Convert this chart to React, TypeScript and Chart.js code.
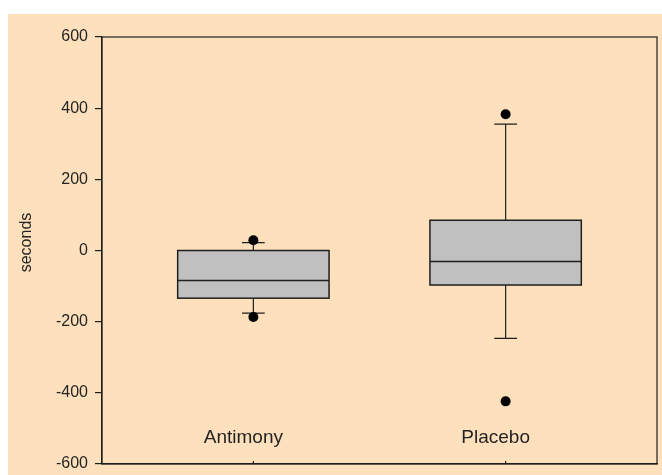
import React, { useEffect, useRef } from "react";
import { Chart, registerables } from "chart.js";

Chart.register(...registerables);

const categories = ["Antimony", "Placebo"];
const whiskerLow = [-176, -247];
const q1 = [-134, -97];
const median = [-84, -31];
const q3 = [0, 85];
const whiskerHigh = [22, 355];
const outliers = [
  [29, -187],
  [383, -424],
];
const yTickMin = -600;
const yTickMax = 600;
const yTickStep = 200;

const FONT = "'Liberation Sans', Arial, Helvetica, sans-serif";
const INK = "#1e1e1e";
const TEXT = "#242424";
const BOX_HALF = 0.3;
const CAP_HALF = 0.045;

const boxPlugin = {
  id: "boxplotDraw",
  beforeDatasetsDraw(chart: any) {
    const { ctx, scales } = chart;
    const x = scales.x;
    const y = scales.y;
    ctx.save();
    categories.forEach((_, i) => {
      const pos = i + 1;
      const cx = x.getPixelForValue(pos);
      const left = x.getPixelForValue(pos - BOX_HALF);
      const right = x.getPixelForValue(pos + BOX_HALF);
      const capL = x.getPixelForValue(pos - CAP_HALF);
      const capR = x.getPixelForValue(pos + CAP_HALF);
      const yQ1 = y.getPixelForValue(q1[i]);
      const yQ3 = y.getPixelForValue(q3[i]);
      const yMed = y.getPixelForValue(median[i]);
      const yLo = y.getPixelForValue(whiskerLow[i]);
      const yHi = y.getPixelForValue(whiskerHigh[i]);

      ctx.strokeStyle = INK;
      ctx.lineWidth = 1.2;
      ctx.beginPath();
      ctx.moveTo(cx, yQ3);
      ctx.lineTo(cx, yHi);
      ctx.moveTo(capL, yHi);
      ctx.lineTo(capR, yHi);
      ctx.moveTo(cx, yQ1);
      ctx.lineTo(cx, yLo);
      ctx.moveTo(capL, yLo);
      ctx.lineTo(capR, yLo);
      ctx.stroke();

      ctx.fillStyle = "#C0C0C0";
      ctx.fillRect(left, yQ3, right - left, yQ1 - yQ3);
      ctx.lineWidth = 1.5;
      ctx.strokeRect(left, yQ3, right - left, yQ1 - yQ3);
      ctx.beginPath();
      ctx.moveTo(left, yMed);
      ctx.lineTo(right, yMed);
      ctx.stroke();
    });
    ctx.restore();
  },
  afterDraw(chart: any) {
    const { ctx, scales, chartArea } = chart;
    const x = scales.x;
    const y = scales.y;
    ctx.save();
    ctx.strokeStyle = INK;
    ctx.lineWidth = 1.2;
    ctx.strokeRect(chartArea.left, chartArea.top, chartArea.right - chartArea.left, chartArea.bottom - chartArea.top);
    ctx.beginPath();
    categories.forEach((_, i) => {
      const cx = x.getPixelForValue(i + 1);
      ctx.moveTo(cx, chartArea.bottom);
      ctx.lineTo(cx, chartArea.bottom - 3);
    });
    ctx.stroke();
    ctx.fillStyle = TEXT;
    ctx.font = `19px ${FONT}`;
    ctx.textAlign = "center";
    ctx.textBaseline = "middle";
    categories.forEach((name, i) => {
      const cx = x.getPixelForValue(i + 1) - 10;
      ctx.fillText(name, cx, y.getPixelForValue(-525));
    });
    ctx.font = `16px ${FONT}`;
    ctx.translate(19, (chartArea.top + chartArea.bottom) / 2 - 8);
    ctx.rotate(-Math.PI / 2);
    ctx.fillText("seconds", 0, 0);
    ctx.restore();
  },
};

export default function App() {
  const ref = useRef<HTMLCanvasElement>(null);
  useEffect(() => {
    if (!ref.current) return;
    const outlierPoints: { x: number; y: number }[] = [];
    outliers.forEach((vals, i) => vals.forEach((v) => outlierPoints.push({ x: i + 1, y: v })));
    const chart = new Chart(ref.current, {
      type: "scatter",
      data: {
        datasets: [
          {
            data: outlierPoints,
            pointRadius: 5,
            pointHoverRadius: 5,
            backgroundColor: "#000",
            borderWidth: 0,
          },
        ],
      },
      options: {
        animation: false,
        responsive: false,
        events: [],
        layout: { padding: { left: 0, top: 23, right: 3, bottom: 11 } },
        plugins: { legend: { display: false }, tooltip: { enabled: false } },
        scales: {
          x: {
            type: "linear",
            min: 0.4,
            max: 2.6,
            ticks: { display: false },
            grid: { display: false, drawTicks: false },
            border: { display: true, color: INK, width: 1.2 },
            afterFit(scale: any) {
              scale.height = 0;
              scale.paddingLeft = 0;
              scale.paddingRight = 0;
            },
          },
          y: {
            min: yTickMin,
            max: yTickMax,
            ticks: {
              stepSize: yTickStep,
              color: TEXT,
              font: { family: FONT, size: 16 },
              padding: 7,
            },
            grid: { drawOnChartArea: false, drawTicks: true, tickLength: 7, color: INK, lineWidth: 1.2 },
            border: { display: true, color: INK, width: 1.2 },
            afterFit(scale: any) {
              scale.width = 94;
              scale.paddingTop = 0;
              scale.paddingBottom = 0;
            },
          },
        },
      },
      plugins: [boxPlugin],
    } as any);
    return () => chart.destroy();
  }, []);
  return (
    <div
      style={{
        position: "absolute",
        left: 8,
        top: 14,
        width: 654,
        height: 461,
        background: "#FEE0BD",
      }}
    >
      <canvas ref={ref} width={654} height={461} style={{ width: 654, height: 461, display: "block" }} />
    </div>
  );
}
